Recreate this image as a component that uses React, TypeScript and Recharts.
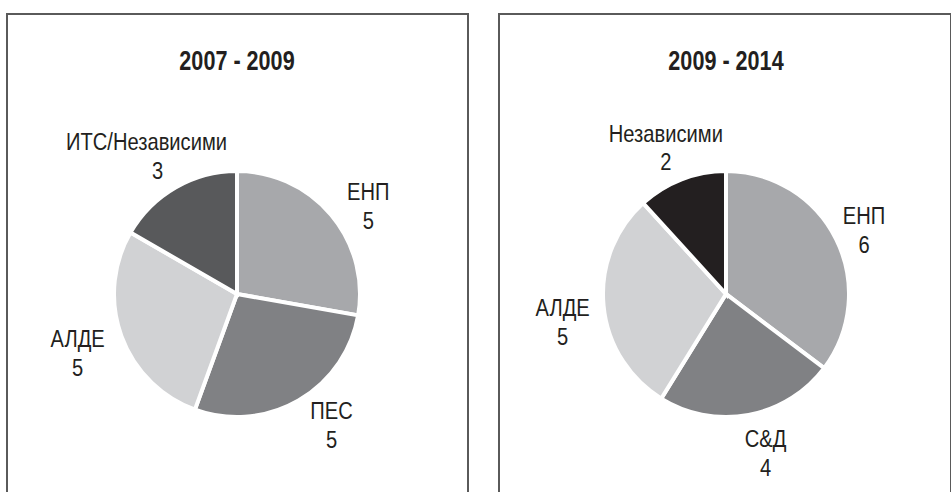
import { PieChart, Pie, Cell } from 'recharts';

// 2007 - 2009
const leftTitle = '2007 - 2009';
const leftNames = ['ЕНП', 'ПЕС', 'АЛДЕ', 'ИТС/Независими'];
const leftValues = [5, 5, 5, 3];
const leftColors = ['#a7a8ab', '#808184', '#d1d2d4', '#58595b'];

// 2009 - 2014
const rightTitle = '2009 - 2014';
const rightNames = ['ЕНП', 'С&Д', 'АЛДЕ', 'Независими'];
const rightValues = [6, 4, 5, 2];
const rightColors = ['#a7a8ab', '#808184', '#d1d2d4', '#231f20'];

// hand placement of the labels in the original: [dx, dy, name dx]
const leftNudge = [[8, 16, 0], [14, -8, 0], [-8, 4, 0], [1, 2, -11]];
const rightNudge = [[-6, 8, 0], [10, 1, 0], [-3, 14, 0], [-2, 4, 0]];

// no narrow font installed, so squeeze Liberation Sans horizontally
const FONT = "'Liberation Sans', Arial, sans-serif";
const SQUEEZE = 0.84;
const RAD = Math.PI / 180;

const leftData = leftNames.map((name, i) => ({ name, value: leftValues[i] }));
const rightData = rightNames.map((name, i) => ({ name, value: rightValues[i] }));

const makeLabel = (nudge: number[][]) => (props: any) => {
  const { cx, cy, midAngle, outerRadius, name, value, index } = props;
  const r = outerRadius + 38;
  const [dx, dy, ndx] = nudge[index] ?? [0, 0, 0];
  const x = cx + r * Math.cos(-midAngle * RAD) + dx;
  const y = cy + r * Math.sin(-midAngle * RAD) + dy;
  return (
    <g transform={`translate(${x},${y}) scale(${SQUEEZE},1)`}>
      <text x={ndx / SQUEEZE} y={-14.5} textAnchor="middle" dominantBaseline="central"
        fill="#231f20" fontSize={24} fontFamily={FONT}>
        {name}
      </text>
      <text x={0} y={14.5} textAnchor="middle" dominantBaseline="central"
        fill="#231f20" fontSize={24} fontFamily={FONT}>
        {value}
      </text>
    </g>
  );
};

const panelStyle = (left: number, width: number): React.CSSProperties => ({
  position: 'absolute',
  left,
  top: 13,
  width,
  height: 520,
  borderTop: '2px solid #5a5a5a',
  borderLeft: '2px solid #5a5a5a',
  borderRight: '2px solid #5a5a5a',
  boxSizing: 'border-box',
});

const titleStyle = (cx: number): React.CSSProperties => ({
  position: 'absolute',
  left: cx - 100,
  width: 200,
  top: 45,
  textAlign: 'center',
  fontFamily: FONT,
  fontWeight: 'bold',
  fontSize: 27,
  color: '#231f20',
  lineHeight: '32px',
  transform: 'scaleX(0.8)',
});

const pieProps = {
  dataKey: 'value',
  nameKey: 'name',
  cy: 294,
  outerRadius: 123,
  startAngle: 90,
  endAngle: -270,
  stroke: '#ffffff',
  strokeWidth: 4,
  labelLine: false,
  isAnimationActive: false,
};

export default function App() {
  return (
    <div style={{ position: 'fixed', left: 0, top: 0, width: 951, height: 492, overflow: 'hidden', background: '#fff' }}>
      <div style={panelStyle(6, 463)} />
      <div style={panelStyle(498, 454)} />
      <div style={titleStyle(237)}>{leftTitle}</div>
      <div style={titleStyle(726)}>{rightTitle}</div>
      <div style={{ position: 'absolute', left: 0, top: 0 }}>
        <PieChart width={951} height={492} margin={{ top: 0, right: 0, bottom: 0, left: 0 }}>
          <Pie data={leftData} cx={237} label={makeLabel(leftNudge)} {...pieProps}>
            {leftData.map((d, i) => (
              <Cell key={d.name} fill={leftColors[i]} />
            ))}
          </Pie>
          <Pie data={rightData} cx={726} label={makeLabel(rightNudge)} {...pieProps}>
            {rightData.map((d, i) => (
              <Cell key={d.name} fill={rightColors[i]} />
            ))}
          </Pie>
        </PieChart>
      </div>
    </div>
  );
}
